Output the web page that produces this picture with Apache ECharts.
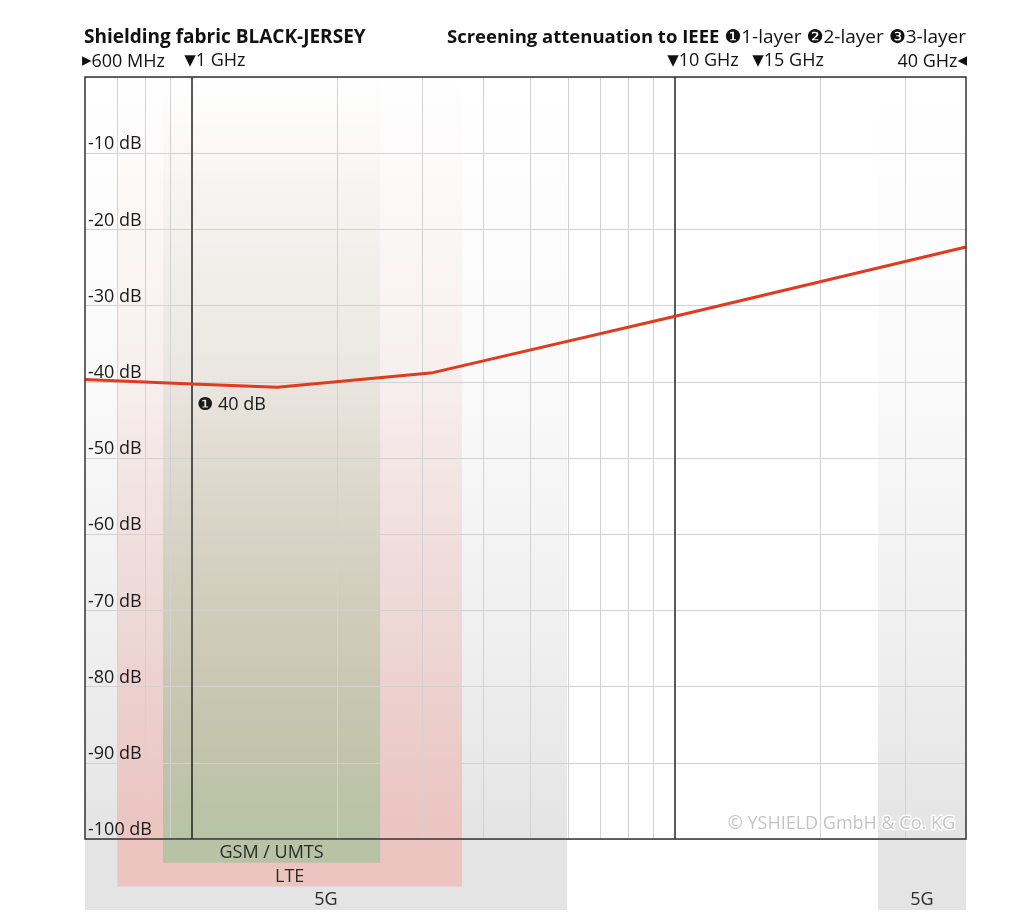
<!DOCTYPE html>
<html>
<head>
<meta charset="utf-8">
<script src="https://cdn.jsdelivr.net/npm/echarts@6/dist/echarts.min.js"></script>
<style>
html,body{margin:0;padding:0;background:#fff;}
#chart{width:1024px;height:912px;}
</style>
</head>
<body>
<div id="chart"></div>
<script>
// ---- data ----
const curveFreq = [600, 1000, 1500, 3150, 10000, 40000];          // MHz
const curveDb   = [-39.7, -40.3, -40.7, -38.8, -31.4, -22.3];      // dB
const gridFreqs = [700, 800, 900, 2000, 3000, 4000, 5000, 6000, 7000, 8000, 9000, 20000, 30000];
const majorFreqs = [1000, 10000];
const topLabelFreq = [600, 1000, 10000, 15000, 40000];
const topLabelText = ['▸', '▼', '▼', '▼', '◂'];
const topLabelName = ['600 MHz', '1 GHz', '10 GHz', '15 GHz', '40 GHz'];
const bandNames = ['5G', '5G', 'LTE', 'GSM / UMTS'];
const bandFrom  = [600, 26300, 700, 870];
const bandTo    = [5970, 40000, 3620, 2450];
const bandDepth = [3, 3, 2, 1];
const bandRGB   = ['228,228,228', '228,228,228', '236,196,192', '184,195,165'];
const yMin = -100, yMax = 0, yStep = 10;
const annotFreq = 1000, annotDb = -40.3, annotText = '❶ 40 dB';

const FONT = '"Open Sans", "Noto Sans", "DejaVu Sans", sans-serif';

const chart = echarts.init(document.getElementById('chart'), null, {renderer: 'canvas'});

function grad(rgb) {
  return {type: 'linear', x: 0, y: 0, x2: 0, y2: 1,
    colorStops: [{offset: 0, color: 'rgba(' + rgb + ',0)'},
                 {offset: 0.4, color: 'rgba(' + rgb + ',0.2)'},
                 {offset: 0.75, color: 'rgba(' + rgb + ',0.6)'},
                 {offset: 1, color: 'rgba(' + rgb + ',1)'}]};
}

const option = {
  animation: false,
  backgroundColor: '#fff',
  textStyle: {fontFamily: FONT},
  title: [
    {text: 'Shielding fabric BLACK-JERSEY', left: 84, top: 28, padding: 0,
     textStyle: {fontFamily: FONT, fontSize: 19, fontWeight: 'bold', color: '#111'}},
    {text: '{b|Screening attenuation to IEEE }{n|❶1-layer ❷2-layer ❸3-layer}', right: 58, top: 28, padding: 0,
     textStyle: {fontWeight: 'normal', rich: {
       b: {fontFamily: FONT, fontSize: 18.5, fontWeight: 'bold', color: '#111'},
       n: {fontFamily: FONT, fontSize: 19, fontWeight: 'normal', color: '#111'}}}},
    {text: '© YSHIELD GmbH & Co. KG', right: 66, top: 815, padding: 0,
     textStyle: {fontFamily: FONT, fontSize: 18, fontWeight: 'normal', color: '#c4c4c4',
                 textBorderColor: '#fff', textBorderWidth: 3}}
  ],
  grid: [
    {left: 85, right: 58, top: 77, height: 762, show: true, z: 10,
     backgroundColor: 'transparent', borderColor: '#333', borderWidth: 1.5},
    {left: 85, right: 58, top: 839, height: 74, show: false}
  ],
  xAxis: [
    {type: 'log', logBase: 10, min: 600, max: 40000, gridIndex: 0,
     axisLine: {show: false}, axisTick: {show: false}, axisLabel: {show: false}, splitLine: {show: false}},
    {type: 'log', logBase: 10, min: 600, max: 40000, gridIndex: 1, show: false}
  ],
  yAxis: [
    {type: 'value', min: yMin, max: yMax, interval: yStep, gridIndex: 0, z: 5,
     axisLine: {show: false}, axisTick: {show: false},
     splitLine: {show: true, lineStyle: {color: '#d2d2d2', width: 1}},
     axisLabel: {inside: true, margin: 3, verticalAlign: 'bottom', align: 'left',
       fontFamily: FONT, fontSize: 18, color: '#1a1a1a', showMinLabel: true,
       formatter: v => (v === 0 ? '' : v + ' dB')}},
    {type: 'value', min: 0, max: 3.08, inverse: true, gridIndex: 1, show: false}
  ],
  series: [
    { // faded frequency bands in main plot
      type: 'line', xAxisIndex: 0, yAxisIndex: 0, data: [], z: 1, silent: true,
      markArea: {silent: true, label: {show: false},
        data: bandNames.map((n, i) => [
          {xAxis: bandFrom[i], itemStyle: {color: grad(bandRGB[i])}},
          {xAxis: bandTo[i]}])}
    },
    { // band blocks below plot
      type: 'line', xAxisIndex: 1, yAxisIndex: 1, data: [], z: 1, silent: true,
      markArea: {silent: true,
        data: bandNames.map((n, i) => [
          {name: n, xAxis: bandFrom[i], yAxis: 0,
           itemStyle: {color: 'rgb(' + bandRGB[i] + ')'},
           label: {show: true, position: 'insideBottom', distance: 1,
                   fontFamily: FONT, fontSize: 18, color: '#2a2a2a'}},
          {xAxis: bandTo[i], yAxis: bandDepth[i]}])}
    },
    { // minor vertical grid lines
      type: 'line', xAxisIndex: 0, yAxisIndex: 0, data: [], z: 2, silent: true,
      markLine: {silent: true, symbol: 'none', label: {show: false},
        lineStyle: {color: '#d2d2d2', width: 1, type: 'solid'},
        data: gridFreqs.map(f => ({xAxis: f}))}
    },
    { // major vertical lines
      type: 'line', xAxisIndex: 0, yAxisIndex: 0, data: [], z: 4, silent: true,
      markLine: {silent: true, symbol: 'none', label: {show: false},
        lineStyle: {color: '#222', width: 1.5, type: 'solid'},
        data: majorFreqs.map(f => ({xAxis: f}))}
    },
    { // attenuation curve
      name: '1-layer', type: 'line', xAxisIndex: 0, yAxisIndex: 0, z: 6,
      symbol: 'none', smooth: false,
      lineStyle: {color: '#e23a1c', width: 3},
      data: curveFreq.map((f, i) => [f, curveDb[i]])
    },
    { // frequency labels above plot
      type: 'scatter', xAxisIndex: 0, yAxisIndex: 0, z: 12, symbolSize: 0, silent: true,
      itemStyle: {opacity: 1},
      data: topLabelFreq.map((f, i) => {
        const last = i === topLabelFreq.length - 1;
        const first = i === 0;
        return {value: [f, yMax],
          label: {show: true, opacity: 1,
            formatter: last ? '{t|' + topLabelName[i] + '}{s|' + topLabelText[i] + '}'
                            : '{s|' + topLabelText[i] + '}{t|' + topLabelName[i] + '}',
            position: [first ? -3 : (last ? 1 : -8), -25],
            align: last ? 'right' : 'left', verticalAlign: 'top',
            rich: {s: {fontFamily: '"DejaVu Sans"', fontSize: first || last ? 19 : 15, color: '#111'},
                   t: {fontFamily: FONT, fontSize: 18, color: '#111'}}}};
      })
    },
    { // annotation
      type: 'scatter', xAxisIndex: 0, yAxisIndex: 0, z: 12, symbolSize: 0, silent: true,
      itemStyle: {opacity: 1},
      data: [{value: [annotFreq, annotDb],
        label: {show: true, opacity: 1, formatter: annotText, position: [5, 12], align: 'left', verticalAlign: 'top',
                fontFamily: FONT, fontSize: 18, color: '#1a1a1a'}}]
    }
  ]
};
chart.setOption(option);
</script>
</body>
</html>
